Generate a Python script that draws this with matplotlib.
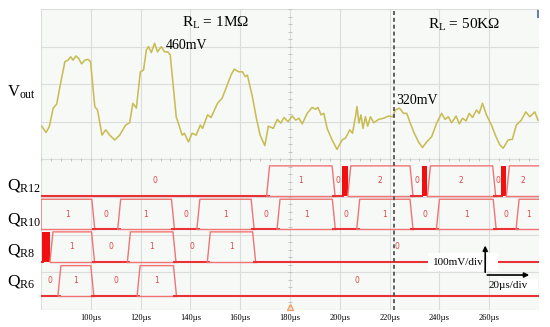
import numpy as np
import matplotlib
matplotlib.use('Agg')
import matplotlib.pyplot as plt
from matplotlib.patches import Rectangle

plt.rcParams['mathtext.fontset'] = 'custom'
plt.rcParams['mathtext.rm'] = 'Liberation Serif'
plt.rcParams['mathtext.it'] = 'Liberation Serif:italic'

# ---------------- data ----------------
vout_t = [80.3, 82.0, 83.3, 84.9, 86.3, 87.6, 89.6, 90.9, 91.9, 92.9, 94.0, 95.1, 96.3, 97.6, 98.9, 99.9,
          101.6, 102.7, 104.5, 106.0, 107.6, 109.6, 111.6, 114.0, 115.6, 116.9, 118.3, 119.9, 121.2, 122.3,
          123.2, 124.3, 125.6, 126.8, 128.3, 129.6, 130.9, 131.9, 134.3, 136.7, 137.6, 139.2, 140.7, 142.3,
          144.0, 144.9, 146.9, 148.3, 150.9, 152.7, 154.3, 156.3, 157.6, 159.3, 160.9, 162.0, 162.9, 164.9,
          166.5, 168.0, 169.9, 171.3, 173.3, 174.9, 176.3, 177.6, 179.2, 180.9, 182.3, 183.6, 184.9, 186.9,
          188.9, 190.3, 191.2, 192.5, 193.6, 194.9, 196.9, 198.9, 200.9, 202.3, 204.0, 205.1, 206.3, 206.9,
          207.7, 208.5, 209.3, 210.3, 211.2, 212.3, 213.6, 215.6, 217.6, 219.6, 221.3, 222.3, 224.0, 225.6,
          226.9, 228.3, 229.9, 231.6, 233.2, 234.9, 236.9, 238.9, 240.9, 242.3, 243.6, 244.9, 246.7, 248.0,
          249.3, 250.7, 252.0, 253.3, 254.9, 256.0, 257.3, 258.9, 260.9, 262.7, 264.3, 265.6, 267.6, 269.3,
          270.9, 272.9, 274.7, 276.3, 278.3, 279.6]
vout_mv = [239, 222, 237, 287, 298, 344, 411, 415, 424, 415, 426, 420, 405, 415, 417, 411,
           291, 282, 215, 229, 215, 202, 215, 242, 248, 300, 287, 384, 389, 442,
           451, 435, 460, 437, 451, 437, 437, 429, 264, 215, 220, 197, 220, 215,
           242, 233, 269, 262, 300, 313, 340, 375, 391, 384, 384, 371, 375, 317,
           260, 215, 187, 239, 233, 257, 247, 262, 251, 266, 255, 260, 245, 273,
           289, 284, 289, 269, 273, 233, 202, 177, 202, 207, 229, 220, 264, 291,
           247, 269, 233, 264, 239, 264, 248, 257, 260, 266, 264, 282, 287, 273,
           273, 247, 220, 197, 182, 197, 211, 247, 273, 257, 264, 248, 266, 245,
           260, 253, 273, 262, 282, 273, 300, 269, 242, 211, 189, 180, 202, 204,
           242, 255, 277, 264, 277, 255]

qr12_edges = [80, 171.2, 197.5, 200.9, 203.2, 228.8, 232.9, 235.2, 262.0, 264.9, 266.9, 280]
qr12_vals = ['0', '1', '0', 'X', '2', '0', 'X', '2', '0', 'X', '2']
qr10_edges = [80, 101.0, 111.4, 133.0, 143.2, 165.0, 175.4, 197.6, 207.4, 228.8, 239.4, 262.2, 271.4, 280]
qr10_vals = ['1', '0', '1', '0', '1', '0', '1', '0', '1', '0', '1', '0', '1']
qr8_edges = [80, 80.6, 83.6, 100.9, 115.3, 133.6, 147.4, 165.6, 280]
qr8_vals = ['0', 'X', '1', '0', '1', '0', '1', '0']
qr6_edges = [80, 87.4, 100.6, 119.2, 133.8, 280]
qr6_vals = ['0', '1', '0', '1', '0']

tick_vals = [100, 120, 140, 160, 180, 200, 220, 240, 260]
tick_labels = ['100µs', '120µs', '140µs', '160µs', '180µs', '200µs', '220µs', '240µs', '260µs']

cursor_t = 221.6
trigger_t = 180

# ---------------- figure ----------------
W, H = 550, 327
fig = plt.figure(figsize=(W / 100, H / 100), dpi=100)
ax = fig.add_axes([41 / W, (H - 309.5) / H, 498 / W, 300 / H])
ax.set_xlim(80, 280)
ax.set_ylim(0, 8)
ax.set_facecolor('#f7f9f7')
for s in ax.spines.values():
    s.set_visible(False)

grid_c = '#dcdcdc'
for x in range(80, 281, 20):
    ax.axvline(x, color=grid_c, lw=0.8, zorder=0)
for y in range(0, 9):
    ax.axhline(y, color=grid_c, lw=0.8, zorder=0)
# minor ticks on centre lines
mt = np.arange(80, 280.1, 4)
ax.vlines(mt, 4 - 0.05, 4 + 0.05, color='#c4c4c4', lw=0.7, zorder=0)
my = np.arange(0, 8.01, 0.2)
ax.hlines(my, 180 - 0.9, 180 + 0.9, color='#c4c4c4', lw=0.7, zorder=0)

# Vout trace
vt = np.array(vout_t)
vd = (np.array(vout_mv) + 250) / 100.0
ax.plot(vt, vd, color='#c8bd55', lw=1.15, zorder=3, solid_joinstyle='round')

# digital buses
box_c = '#f07474'
low_c = '#e83236'
blk_c = '#f01010'
w = 1.2
rows = [(qr12_edges, qr12_vals, 3.03), (qr10_edges, qr10_vals, 2.14),
        (qr8_edges, qr8_vals, 1.27), (qr6_edges, qr6_vals, 0.37)]
hgt = 0.8
for edges, vals, bot in rows:
    top = bot + hgt
    n = len(vals)
    for i, v in enumerate(vals):
        t0, t1 = edges[i], edges[i + 1]
        if v == 'X':
            ax.add_patch(Rectangle((t0, bot), t1 - t0, hgt, color=blk_c, lw=0, zorder=4))
            continue
        if v == '0':
            a = t0 - (w / 2 if i > 0 else 0)
            b = t1 + (w / 2 if i < n - 1 else 0)
            ax.plot([a, b], [bot, bot], color=low_c, lw=1.5, zorder=4, solid_capstyle='butt')
        else:
            if i == 0:
                xs = [t0, t0]
                ys = [bot, top]
            elif vals[i - 1] == 'X':
                xs = [t0, t0 + w]
                ys = [bot, top]
            else:
                xs = [t0 - w / 2, t0 + w / 2]
                ys = [bot, top]
            if i == n - 1:
                xs += [t1]
                ys += [top]
            elif vals[i + 1] == 'X':
                xs += [t1 - w, t1]
                ys += [top, bot]
            else:
                xs += [t1 - w / 2, t1 + w / 2]
                ys += [top, bot]
            ax.plot(xs, ys, color=box_c, lw=1.0, zorder=4)
            ax.plot([xs[0], xs[-1]], [bot, bot], color=box_c, lw=1.0, zorder=4)
        if t1 - t0 > 1.5:
            ax.text((t0 + t1) / 2, bot + hgt / 2, v, color='#e24646', fontsize=5.5,
                    ha='center', va='center', family='DejaVu Sans', zorder=5)

# cursor and trigger marker
ax.axvline(cursor_t, color='#555555', lw=1.3, ls=(0, (2.2, 1.6)), zorder=6)
ax.plot([trigger_t], [0.07], marker='^', ms=5, mfc='none', mec='#f0a060', mew=1.0,
        clip_on=False, zorder=6)
ax.plot([279.6, 279.6], [7.8, 7.95], color='#6d7fa5', lw=1.5, zorder=6)

# scale indicator
ax.add_patch(Rectangle((235.6, 1.02), 28.0, 0.5, color='white', lw=0, zorder=7))
ax.add_patch(Rectangle((263.5, 0.45), 16, 0.36, color='white', lw=0, zorder=7))
ax.annotate('', xy=(258.4, 1.78), xytext=(258.4, 0.92),
            arrowprops=dict(arrowstyle='-|>', color='black', lw=1.2, mutation_scale=7), zorder=8)
ax.annotate('', xy=(277.2, 0.92), xytext=(258.1, 0.92),
            arrowprops=dict(arrowstyle='-|>', color='black', lw=1.2, mutation_scale=7), zorder=8)
serif = 'Liberation Serif'
ax.text(247.6, 1.26, '100mV/div', fontsize=8, family=serif, ha='center', va='center', zorder=9)
ax.text(267.5, 0.63, '20µs/div', fontsize=8, family=serif, ha='center', va='center', zorder=9)

# annotations
ax.text(136.8, 7.65, r'$\mathrm{R_L}$ = 1MΩ', fontsize=11, family=serif, ha='left', va='center', zorder=9)
ax.text(235.6, 7.6, r'$\mathrm{R_L}$ = 50KΩ', fontsize=11, family=serif, ha='left', va='center', zorder=9)
ax.text(130.3, 7.04, '460mV', fontsize=10, family=serif, ha='left', va='center', zorder=9)
ax.text(222.8, 5.56, '320mV', fontsize=10, family=serif, ha='left', va='center', zorder=9)

fig.text(7 / W, 1 - 92 / H, r'$\mathrm{V_{out}}$', fontsize=12, ha='left', va='center')
for lab, yp in [(r'$\mathrm{Q_{R12}}$', 185), (r'$\mathrm{Q_{R10}}$', 219),
                (r'$\mathrm{Q_{R8}}$', 250), (r'$\mathrm{Q_{R6}}$', 281)]:
    fig.text(7 / W, 1 - yp / H, lab, fontsize=12.5, ha='left', va='center')

ax.set_xticks(tick_vals)
ax.set_xticklabels(tick_labels, fontsize=6, family=serif)
ax.set_yticks([])
ax.tick_params(axis='x', length=0, pad=3.5)

fig.savefig('out.png', dpi=100, facecolor='white')
